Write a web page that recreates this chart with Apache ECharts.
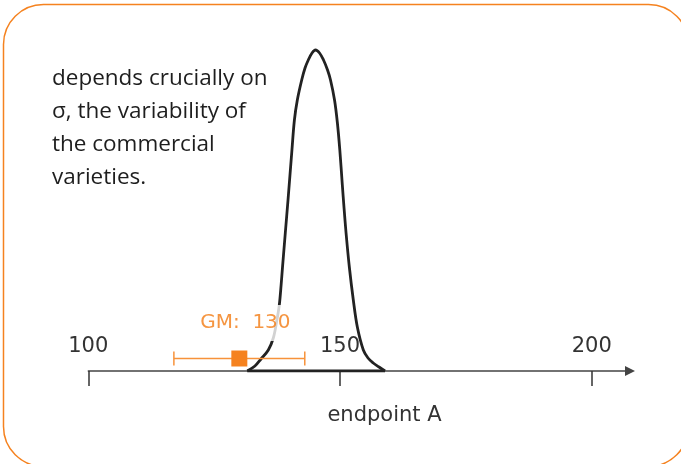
<!DOCTYPE html>
<html>
<head>
<meta charset="utf-8">
<script src="https://cdn.jsdelivr.net/npm/echarts@6/dist/echarts.min.js"></script>
<style>
  html, body { margin: 0; padding: 0; background: #fff; }
  #chart { width: 681px; height: 464px; }
</style>
</head>
<body>
<div id="chart"></div>
<script>
// tick labels on the endpoint axis
const tickValues = [100, 150, 200]

// distribution of commercial varieties (x = endpoint, y = height of the curve)
const curveX = [131.58, 133.1, 134.3, 135.76, 136.75, 137.4, 137.94, 138.3, 138.58, 139.13, 139.67, 140.45, 140.94,
  141.52, 142.39, 143.05, 143.7, 144.44, 145.13, 145.93, 146.72, 147.52, 148.11, 148.91, 149.48, 149.96, 150.46,
  150.8, 151.2, 151.85, 152.64, 153.44, 154.63, 155.56, 156.6, 157.75, 158.94]
const curveY = [0, 5, 12, 21, 33, 49, 66, 86, 104, 138, 171, 221, 251,
  271, 291, 303, 311, 318, 321, 318, 311, 301, 291, 271, 248, 221, 186,
  163, 138, 104, 71, 44, 21, 13, 8, 4, 0]

// GM estimate with its interval
const gmValue = 130
const gmLow = 117
const gmHigh = 143

const noteLines = ['depends crucially on', 'σ, the variability of', 'the commercial', 'varieties.']
const axisName = 'endpoint A'

const orange = '#F5821F'
const ink = '#222'

const chart = echarts.init(document.getElementById('chart'))

chart.setOption({
  backgroundColor: '#fff',
  animation: false,
  grid: {
    left: 88.3,
    right: 51,
    top: 41,
    bottom: 93,
    outerBoundsMode: 'none'
  },
  xAxis: {
    type: 'value',
    min: 100,
    max: 207.6,
    interval: 50,
    splitLine: { show: false },
    axisLine: {
      lineStyle: { color: '#444', width: 1.5 },
      symbol: ['none', 'path://M5,0L10,10L0,10Z'],
      symbolSize: [10, 11]
    },
    axisTick: {
      inside: false,
      length: 15,
      lineStyle: { color: '#333', width: 1.5 }
    },
    axisLabel: {
      inside: true,
      margin: 14,
      color: '#333',
      fontFamily: 'DejaVu Sans',
      fontSize: 21,
      showMaxLabel: false,
      formatter: v => (tickValues.indexOf(v) >= 0 ? String(v) : '')
    }
  },
  yAxis: {
    type: 'value',
    min: 0,
    max: 330,
    show: false
  },
  series: [
    {
      // bell shaped curve
      type: 'line',
      data: curveX.map((x, i) => [x, curveY[i]]),
      smooth: 0.35,
      symbol: 'none',
      z: 3,
      lineStyle: { color: ink, width: 2.8 }
    },
    {
      // base of the curve
      type: 'line',
      data: [[curveX[0], 0], [curveX[curveX.length - 1], 0]],
      symbol: 'none',
      z: 3,
      lineStyle: { color: ink, width: 2.8 }
    },
    {
      // error bar and GM marker
      type: 'custom',
      z: 4,
      data: [[gmValue, gmLow, gmHigh, 12.5]],
      renderItem: (params, api) => {
        const lo = api.coord([api.value(1), api.value(3)])
        const hi = api.coord([api.value(2), api.value(3)])
        const mid = api.coord([api.value(0), api.value(3)])
        const cap = 7
        const style = { stroke: '#F7923A', lineWidth: 1.5 }
        return {
          type: 'group',
          children: [
            { type: 'line', shape: { x1: lo[0], y1: lo[1], x2: hi[0], y2: hi[1] }, style },
            { type: 'line', shape: { x1: lo[0], y1: lo[1] - cap, x2: lo[0], y2: lo[1] + cap }, style },
            { type: 'line', shape: { x1: hi[0], y1: hi[1] - cap, x2: hi[0], y2: hi[1] + cap }, style },
            { type: 'rect', shape: { x: mid[0] - 8, y: mid[1] - 8, width: 16, height: 16 }, style: { fill: orange } }
          ]
        }
      }
    },
    {
      // GM label, sits over the curve
      type: 'scatter',
      z: 10,
      symbolSize: 1,
      itemStyle: { color: 'transparent' },
      data: [[131.2, 48]],
      label: {
        show: true,
        position: 'inside',
        formatter: 'GM:  ' + gmValue,
        color: '#F37A12',
        fontFamily: 'DejaVu Sans',
        fontSize: 20,
        backgroundColor: '#fff',
        padding: [8, 3, 8, 3]
      }
    }
  ],
  graphic: [
    {
      type: 'rect',
      silent: true,
      shape: { x: 3.5, y: 4.5, width: 685, height: 462, r: 40 },
      style: { fill: 'none', stroke: orange, lineWidth: 1.5 }
    },
    {
      type: 'text',
      left: 52,
      top: 62,
      style: {
        text: noteLines.join('\n'),
        font: '22.5px "Open Sans"',
        lineHeight: 33,
        fill: '#1e1e1e'
      }
    },
    {
      type: 'text',
      x: 384.5,
      y: 416,
      style: {
        text: axisName,
        font: '21px "DejaVu Sans"',
        fill: '#333',
        align: 'center',
        verticalAlign: 'middle'
      }
    }
  ]
})
</script>
</body>
</html>
